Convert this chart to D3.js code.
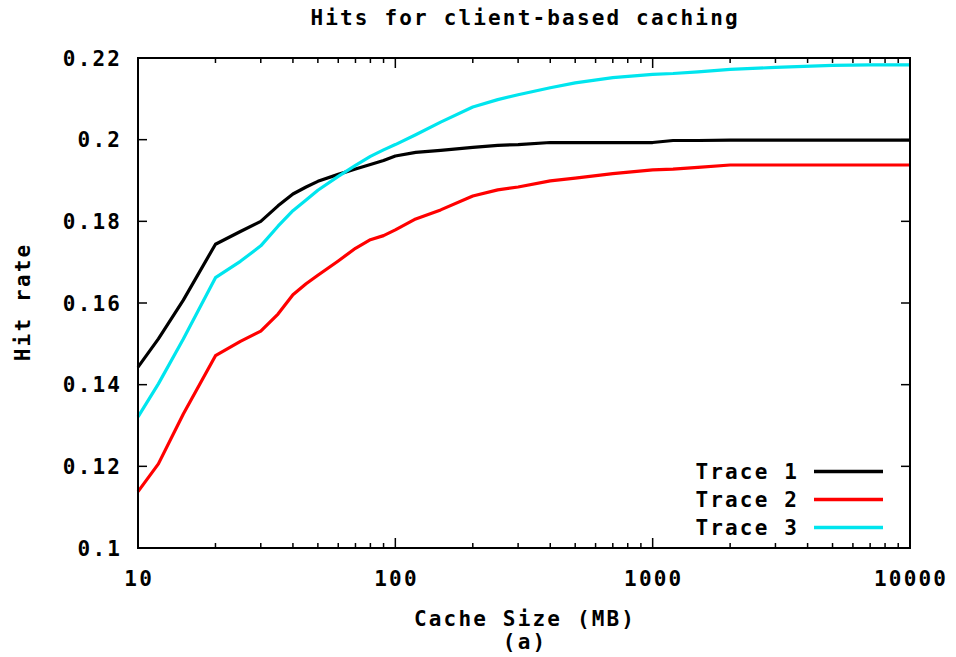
<!DOCTYPE html>
<html>
<head>
<meta charset="utf-8">
<script src="https://cdn.jsdelivr.net/npm/d3@7"></script>
<style>
  html, body { margin: 0; padding: 0; background: #fff; }
  svg { display: block; }
  text { font-family: "DejaVu Sans Mono", "Liberation Mono", monospace; font-weight: bold; fill: #000; }
</style>
</head>
<body>
<svg id="chart" width="956" height="657"></svg>
<script>
// ---- data ----
const sizes  = [10, 12, 15, 20, 25, 30, 35, 40, 45, 50, 60, 70, 80, 90, 100, 120, 150, 200, 250, 300, 400, 500, 700, 1000, 1200, 1500, 2000, 3000, 5000, 7000, 10000];
const trace1 = [0.1443, 0.1512, 0.1607, 0.1744, 0.1775, 0.1800, 0.1838, 0.1867, 0.1884, 0.1898, 0.1915, 0.1928, 0.1939, 0.1949, 0.1960, 0.1969, 0.1974, 0.1981, 0.1986, 0.1988, 0.1993, 0.1993, 0.1993, 0.1993, 0.1998, 0.1998, 0.1999, 0.1999, 0.1999, 0.1999, 0.1999];
const trace2 = [0.1138, 0.1206, 0.1328, 0.1471, 0.1506, 0.1531, 0.1573, 0.1620, 0.1647, 0.1668, 0.1703, 0.1734, 0.1755, 0.1765, 0.1779, 0.1806, 0.1828, 0.1862, 0.1877, 0.1884, 0.1899, 0.1906, 0.1917, 0.1926, 0.1928, 0.1932, 0.1938, 0.1938, 0.1938, 0.1938, 0.1938];
const trace3 = [0.1321, 0.1402, 0.1512, 0.1662, 0.1702, 0.1740, 0.1788, 0.1826, 0.1852, 0.1876, 0.1910, 0.1937, 0.1959, 0.1975, 0.1988, 0.2012, 0.2043, 0.2080, 0.2098, 0.2110, 0.2127, 0.2139, 0.2152, 0.2160, 0.2162, 0.2166, 0.2172, 0.2177, 0.2182, 0.2183, 0.2183];
const seriesNames  = ["Trace 1", "Trace 2", "Trace 3"];
const seriesColors = ["#000000", "#ff0000", "#00e5ee"];
const xTicks      = [10, 100, 1000, 10000];
const xTickLabels = ["10", "100", "1000", "10000"];
const yTicks      = [0.1, 0.12, 0.14, 0.16, 0.18, 0.2, 0.22];
const yTickLabels = ["0.1", "0.12", "0.14", "0.16", "0.18", "0.2", "0.22"];
const titleText = "Hits for client-based caching";
const xLabel = "Cache Size (MB)";
const xSubLabel = "(a)";
const yLabel = "Hit rate";

// ---- layout ----
const L = 138, R = 910, T = 58, B = 548;
const CH = 14.8; // char advance
const svg = d3.select("#chart");
const x = d3.scaleLog().domain([10, 10000]).range([L, R]);
const y = d3.scaleLinear().domain([0.1, 0.22]).range([B, T]);

function txt(g, s, px, py, anchor, size) {
  return g.append("text")
    .attr("x", px).attr("y", py)
    .attr("text-anchor", anchor)
    .attr("font-size", size || 21)
    .attr("textLength", s.length * CH - 2)
    .attr("lengthAdjust", "spacing")
    .text(s);
}

// ---- ticks (inward, mirrored) ----
const tg = svg.append("g").attr("stroke", "#000").attr("stroke-width", 1.5);
yTicks.forEach(v => {
  tg.append("line").attr("x1", L).attr("x2", L + 9).attr("y1", y(v)).attr("y2", y(v));
  tg.append("line").attr("x1", R).attr("x2", R - 9).attr("y1", y(v)).attr("y2", y(v));
});
const minor = [];
[10, 100, 1000].forEach(d => { for (let k = 2; k <= 9; k++) minor.push(d * k); });
xTicks.forEach(v => {
  tg.append("line").attr("x1", x(v)).attr("x2", x(v)).attr("y1", B).attr("y2", B - 10);
  tg.append("line").attr("x1", x(v)).attr("x2", x(v)).attr("y1", T).attr("y2", T + 10);
});
minor.forEach(v => {
  tg.append("line").attr("x1", x(v)).attr("x2", x(v)).attr("y1", B).attr("y2", B - 5);
  tg.append("line").attr("x1", x(v)).attr("x2", x(v)).attr("y1", T).attr("y2", T + 5);
});

// ---- tick labels ----
const lg = svg.append("g");
yTicks.forEach((v, i) => txt(lg, yTickLabels[i], 120, y(v) + 7.5, "end"));
xTicks.forEach((v, i) => txt(lg, xTickLabels[i], x(v), 586, "middle"));

// ---- lines ----
const line = d3.line().x(d => x(d[0])).y(d => y(d[1]));
[trace1, trace2, trace3].forEach((vals, i) => {
  svg.append("path")
    .datum(sizes.map((s, j) => [s, vals[j]]))
    .attr("fill", "none")
    .attr("stroke", seriesColors[i])
    .attr("stroke-width", 3.2)
    .attr("stroke-linejoin", "round")
    .attr("d", line);
});

// ---- frame ----
svg.append("rect").attr("x", L).attr("y", T).attr("width", R - L).attr("height", B - T)
  .attr("fill", "none").attr("stroke", "#000").attr("stroke-width", 2);

// ---- legend ----
const leg = svg.append("g");
seriesNames.forEach((n, i) => {
  const ly = 471.5 + i * 28;
  txt(leg, n, 797, ly + 7.5, "end");
  leg.append("line").attr("x1", 814).attr("x2", 883).attr("y1", ly).attr("y2", ly)
    .attr("stroke", seriesColors[i]).attr("stroke-width", 3.5);
});

// ---- titles ----
txt(svg, titleText, (L + R) / 2, 25, "middle");
txt(svg, xLabel, (L + R) / 2, 626, "middle");
txt(svg, xSubLabel, (L + R) / 2, 649, "middle");
const yl = svg.append("g").attr("transform", `translate(30,${(T + B) / 2}) rotate(-90)`);
txt(yl, yLabel, 0, 0, "middle");
</script>
</body>
</html>
